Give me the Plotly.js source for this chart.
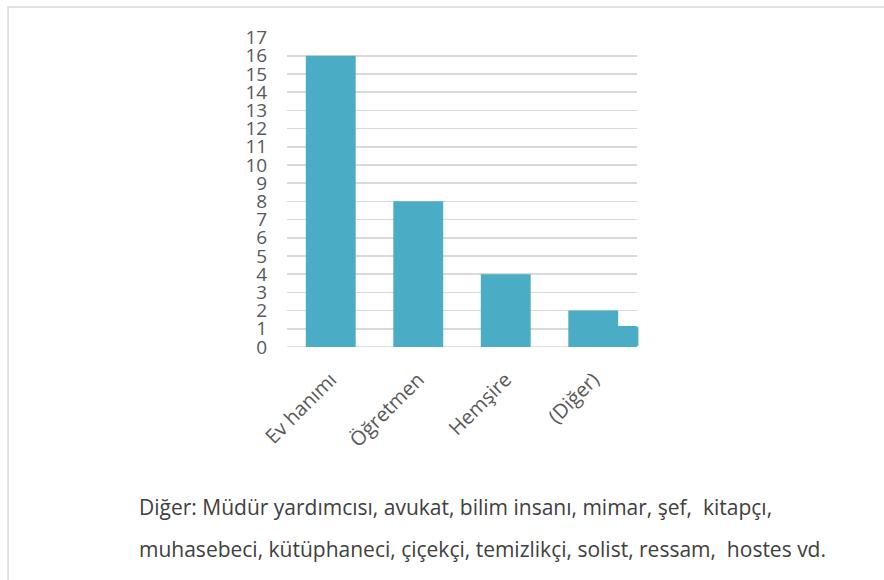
<!DOCTYPE html>
<html>
<head>
<meta charset="utf-8">
<script src="https://cdn.plot.ly/plotly-3.0.1.min.js"></script>
<style>html,body{margin:0;padding:0;background:#fff;}#chart{width:884px;height:580px;}</style>
</head>
<body>
<div id="chart"></div>
<script>
const categories = ["Ev hanımı", "Öğretmen", "Hemşire", "(Diğer)"];
const counts = [16, 8, 4, 2];
const yTicks = [0,1,2,3,4,5,6,7,8,9,10,11,12,13,14,15,16,17];
const noteLines = [
  "Diğer: Müdür yardımcısı, avukat, bilim insanı, mimar, şef,  kitapçı,",
  "muhasebeci, kütüphaneci, çiçekçi, temizlikçi, solist, ressam,  hostes vd."
];
const artifactValue = 1.15;

const barColor = "#4BACC6";
const textColor = "#595959";
const fontFam = "'Open Sans', 'Noto Sans', sans-serif";

const trace = {
  type: "bar",
  x: categories,
  y: counts,
  marker: {color: barColor, line: {width: 0}},
  width: 0.57,
  hoverinfo: "x+y"
};

const layout = {
  width: 884, height: 580,
  margin: {l: 287, r: 247, t: 37, b: 233},
  paper_bgcolor: "#fff", plot_bgcolor: "#fff",
  showlegend: false,
  font: {family: fontFam, color: textColor},
  xaxis: {
    type: "category",
    range: [-0.5, 3.5],
    tickangle: -45,
    tickfont: {size: 20, color: textColor, family: fontFam},
    showgrid: false, zeroline: false, showline: false,
    ticks: "outside", ticklen: 12, tickcolor: "rgba(0,0,0,0)"
  },
  yaxis: {
    range: [0, 17.03],
    tickvals: yTicks,
    ticktext: yTicks.map(String),
    tickfont: {size: 19, color: textColor, family: fontFam},
    showgrid: true, gridcolor: "#D9D9D9", gridwidth: 1.5,
    zeroline: false, showline: false,
    ticks: "outside", ticklen: 15, tickcolor: "rgba(0,0,0,0)"
  },
  shapes: [
    {type: "rect", xref: "paper", yref: "paper",
     x0: -0.797, x1: 1.75, y0: -0.8, y1: 1.097,
     line: {color: "#D9D9D9", width: 1.5}, fillcolor: "rgba(0,0,0,0)", layer: "below"},
    {type: "line", xref: "paper", yref: "y", x0: 0, x1: 1, y0: 0, y1: 0,
     line: {color: "#D9D9D9", width: 1.5}, layer: "below"},
    {type: "path", xref: "paper", yref: "y", layer: "above",
     path: "M 0.945 0 L 0.945 " + artifactValue + " L 0.995 " + artifactValue +
           " Q 1.004 " + artifactValue + " 1.004 " + (artifactValue - 0.15) +
           " L 1.004 0.15 Q 1.004 0 0.995 0 Z",
     fillcolor: barColor, line: {width: 0}}
  ],
  annotations: noteLines.map((t, i) => ({
    text: t, xref: "paper", yref: "paper",
    x: -0.4286, y: (347 - (507 + i * 42)) / 310,
    xanchor: "left", yanchor: "middle", showarrow: false,
    font: {size: 21, color: "#404040", family: fontFam}
  }))
};

Plotly.newPlot("chart", [trace], layout, {displayModeBar: false, staticPlot: true});
</script>
</body>
</html>
